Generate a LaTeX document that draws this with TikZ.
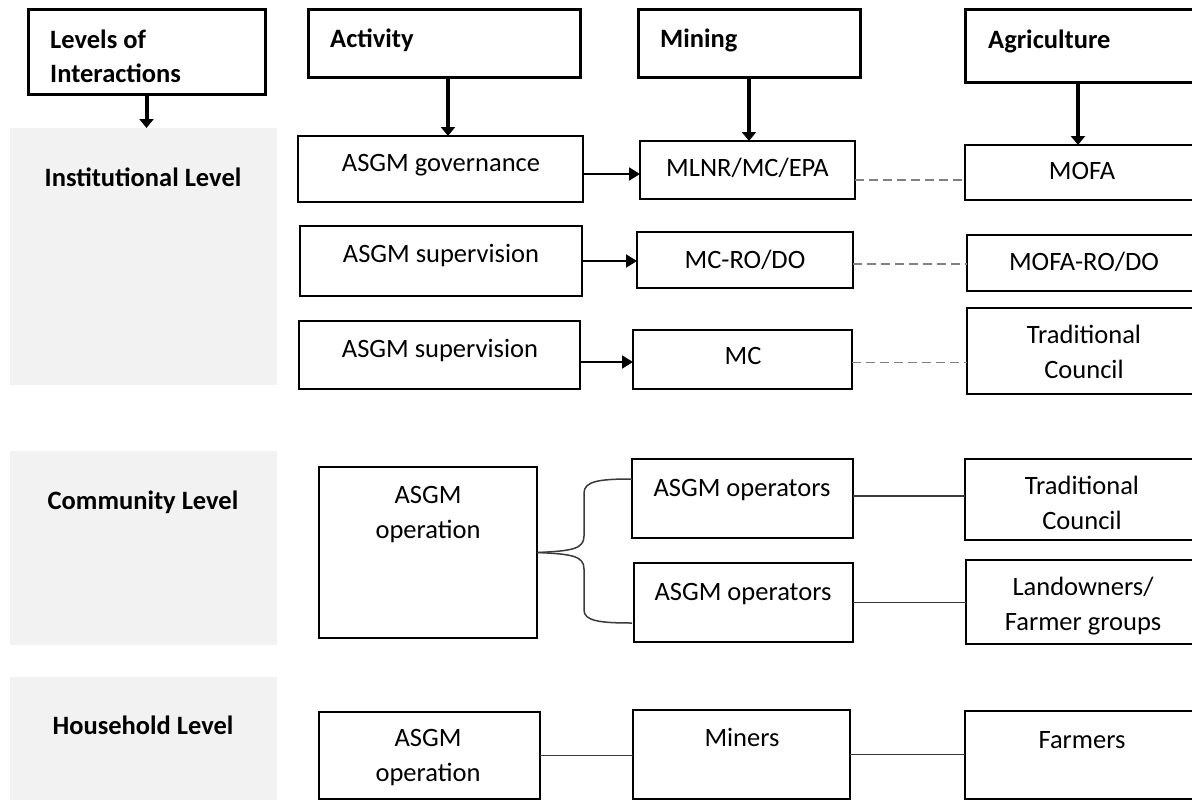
\documentclass[tikz,border=0pt]{standalone}
\usepackage{fontspec}
\setmainfont{Carlito}
\usetikzlibrary{arrows.meta}

% box from its corners: name, x1, y1, x2, y2, style
\newcommand\cornerbox[6]{%
  \node[#6, anchor=north west, minimum width={(#4-#2)*1pt}, minimum height={(#5-#3)*1pt}] (#1) at (#2,#3) {};}

\begin{document}
\begin{tikzpicture}[x=1pt, y=-1pt,
  box/.style={draw=black, line width=1.8pt, fill=white, inner sep=0pt, outer sep=0pt},
  headbox/.style={draw=black, line width=3pt, fill=white, inner sep=0pt, outer sep=0pt},
  panel/.style={fill=panelgray, draw=none, inner sep=0pt, outer sep=0pt},
  txt/.style={font=\fontsize{26.5}{35}\selectfont, inner sep=0pt, align=center, anchor=base},
  headtxt/.style={font=\bfseries\fontsize{26.5}{34}\selectfont, inner sep=0pt, align=left, anchor=base west},
  lvltxt/.style={font=\bfseries\fontsize{26.5}{34}\selectfont, inner sep=0pt, anchor=base},
  headarrow/.style={line width=4pt, -{Triangle[length=9pt, width=14pt]}},
  flowarrow/.style={line width=2pt, -{Triangle[length=11pt, width=13pt]}},
  peerlink/.style={draw=dashgray, line width=1.8pt, dash pattern=on 9pt off 5pt},
  tie/.style={draw=tiegray, line width=1.5pt},
]
\definecolor{panelgray}{HTML}{F2F2F2}
\definecolor{dashgray}{HTML}{808080}
\definecolor{tiegray}{HTML}{3A3A3A}

\clip (0,0) rectangle (1192,800);
\fill[white] (0,0) rectangle (1192,800);

% level panels
\cornerbox{pinst}{10}{128}{277}{385}{panel}
\cornerbox{pcom}{10}{451}{277}{645}{panel}
\cornerbox{phou}{10}{677}{277}{810}{panel}
\node[lvltxt] (linst) at (143,186) {Institutional Level};
\node[lvltxt] (lcom) at (143,509) {Community Level};
\node[lvltxt] (lhou) at (143,734) {Household Level};

% column headers (multi-line text sits on the baseline of its last line)
\cornerbox{hlev}{28}{10}{265}{95}{headbox}
\cornerbox{hact}{308}{10}{580}{78}{headbox}
\cornerbox{hmin}{638}{10}{860}{78}{headbox}
\cornerbox{hagr}{965}{10}{1210}{83}{headbox}
\node[headtxt] (tlev) at (50,83) {Levels of\\Interactions};
\node[headtxt] (tact) at (330,48) {Activity};
\node[headtxt] (tmin) at (660,48) {Mining};
\node[headtxt] (tagr) at (988,49) {Agriculture};
\coordinate (agrx) at (1078,83);

% institutional level
\cornerbox{gov}{298}{136}{583}{202}{box}
\cornerbox{mlnr}{640}{141}{855}{199}{box}
\cornerbox{mofa}{965}{145}{1210}{200}{box}
\cornerbox{sup1}{300}{226}{582}{296}{box}
\cornerbox{mcro}{637}{232}{853}{288}{box}
\cornerbox{mofaro}{967}{235}{1210}{291}{box}
\cornerbox{sup2}{299}{321}{580}{389}{box}
\cornerbox{mc}{633}{330}{852}{389}{box}
\cornerbox{trad1}{967}{308}{1210}{394}{box}
\node[txt] (tgov) at (441,171) {ASGM governance};
\node[txt] (tmlnr) at (747.5,176) {MLNR/MC/EPA};
\node[txt] (tmofa) at (1082,179) {MOFA};
\node[txt] (tsup1) at (441,262) {ASGM supervision};
\node[txt] (tmcro) at (745,268) {MC-RO/DO};
\node[txt] (tmofaro) at (1084,270) {MOFA-RO/DO};
\node[txt] (tsup2) at (440,357) {ASGM supervision};
\node[txt] (tmc) at (743,364) {MC};
\node[txt] (ttrad1) at (1084,378) {Traditional\\Council};

% community level
\cornerbox{op1}{319}{467}{537}{638}{box}
\cornerbox{ops1}{632}{459}{853}{538}{box}
\cornerbox{ops2}{634}{563}{853}{642}{box}
\cornerbox{trad2}{965}{459}{1210}{540}{box}
\cornerbox{land}{966}{560}{1210}{644}{box}
\node[txt] (top1) at (428,538) {ASGM\\operation};
\node[txt] (tops1) at (742,496) {ASGM operators};
\node[txt] (tops2) at (743,600) {ASGM operators};
\node[txt] (ttrad2) at (1082,529) {Traditional\\Council};
\node[txt] (tland) at (1083,630) {Landowners/\\Farmer groups};

% household level
\cornerbox{op2}{319}{712}{540}{799}{box}
\cornerbox{miners}{633}{710}{850}{799}{box}
\cornerbox{farmers}{965}{711}{1210}{799}{box}
\node[txt] (top2) at (428,781) {ASGM\\operation};
\node[txt] (tminers) at (742,746) {Miners};
\node[txt] (tfarmers) at (1082,748) {Farmers};

% header arrows
\draw[headarrow] (hlev.south) -- (hlev.south |- pinst.north);
\draw[headarrow] ([xshift=4pt]hact.south) -- ([xshift=4pt]hact.south |- gov.north);
\draw[headarrow] (hmin.south) -- (hmin.south |- mlnr.north);
\draw[headarrow] (hagr.south -| agrx) -- (mofa.north -| agrx);

% activity to mining
\draw[flowarrow] ([yshift=-5pt]gov.east) -- ([yshift=-5pt]gov.east -| mlnr.west);
\draw[flowarrow] (sup1.east) -- (sup1.east -| mcro.west);
\draw[flowarrow] ([yshift=-7pt]sup2.east) -- ([yshift=-7pt]sup2.east -| mc.west);

% mining to agriculture (institutional)
\draw[peerlink] ([yshift=-10pt]mlnr.east) -- ([yshift=-10pt]mlnr.east -| mofa.west);
\draw[peerlink] ([yshift=-4pt]mcro.east) -- ([yshift=-4pt]mcro.east -| mofaro.west);
\draw[peerlink] ([yshift=-3pt]mc.east) -- ([yshift=-3pt]mc.east -| trad1.west);

% brace from operation to operators
\coordinate (bup) at (632,479);
\coordinate (bdn) at (632,623);
\draw[tie] (op1.east) .. controls (572,551) and (584,549) .. (584,536)
  -- (584,493) .. controls (584,481) and (600,479) .. (bup);
\draw[tie] (op1.east) .. controls (572,554) and (584,556) .. (584,569)
  -- (584,610) .. controls (584,621) and (600,623) .. (bdn);

% operators to agriculture
\draw[tie] ([yshift=2.5pt]ops1.east) -- ([yshift=2.5pt]ops1.east -| trad2.west);
\draw[tie] (ops2.east) -- (ops2.east -| land.west);

% household ties
\draw[tie] (op2.east) -- (op2.east -| miners.west);
\draw[tie] (miners.east) -- (miners.east -| farmers.west);
\end{tikzpicture}
\end{document}
